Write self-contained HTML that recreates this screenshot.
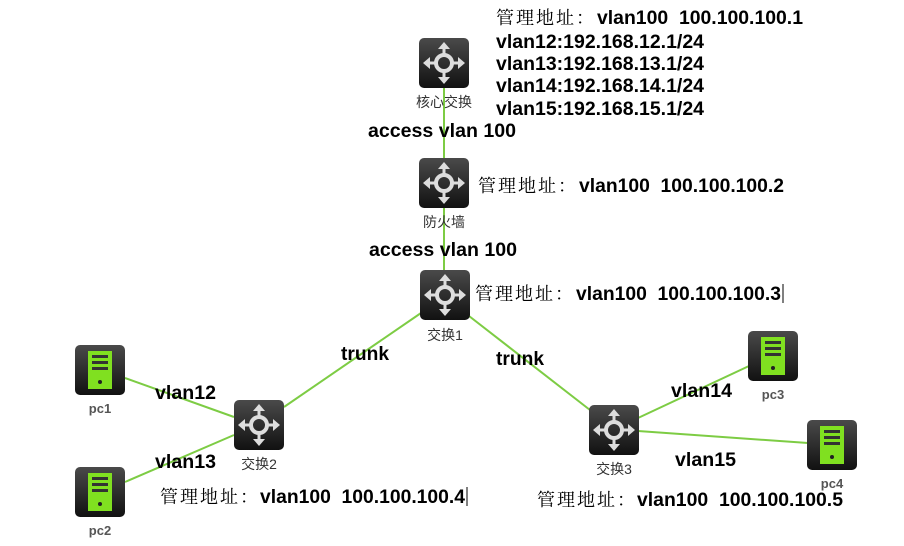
<!DOCTYPE html>
<html><head><meta charset="utf-8"><style>
html,body{margin:0;padding:0;background:#fff;width:904px;height:546px;overflow:hidden}
.b{font-family:"Liberation Sans","Noto Sans CJK SC",sans-serif;font-weight:bold;font-size:19px;fill:#000}
.c{font-family:"Noto Serif CJK SC","Liberation Serif",serif;font-size:18px;fill:#000;letter-spacing:2px}
.s{font-family:"Liberation Sans","Noto Sans CJK SC",sans-serif;font-size:14px;fill:#333}
.p{font-family:"Liberation Sans",sans-serif;font-weight:bold;font-size:13px;fill:#555}
</style></head><body>
<svg width="904" height="546" xmlns="http://www.w3.org/2000/svg">
<defs>
<linearGradient id="g" x1="0" y1="0" x2="0" y2="1"><stop offset="0" stop-color="#4a4a4a"/><stop offset="1" stop-color="#111"/></linearGradient>
<symbol id="sw" viewBox="0 0 50 50">
<rect x="0" y="0" width="50" height="50" rx="5" fill="url(#g)"/>
<g fill="#ddd" stroke="none">
<circle cx="25" cy="25" r="8" fill="none" stroke="#ddd" stroke-width="4"/>
<rect x="23.5" y="9" width="3" height="8"/><rect x="23.5" y="33" width="3" height="8"/>
<rect x="9" y="23.5" width="8" height="3"/><rect x="33" y="23.5" width="8" height="3"/>
<polygon points="25,4 19,11 31,11"/><polygon points="25,46 19,39 31,39"/>
<polygon points="4,25 11,19 11,31"/><polygon points="46,25 39,19 39,31"/>
</g>
</symbol>
<symbol id="pc" viewBox="0 0 50 50">
<rect x="0" y="0" width="50" height="50" rx="5" fill="url(#g)"/>
<rect x="13" y="6" width="24" height="38" fill="#80e020"/>
<rect x="17" y="10" width="16" height="3" fill="#333"/>
<rect x="17" y="16" width="16" height="3" fill="#333"/>
<rect x="17" y="22" width="16" height="3" fill="#333"/>
<circle cx="25" cy="37" r="2" fill="#222"/>
</symbol>
</defs>
<g stroke="#7dcc44" stroke-width="2" fill="none">
<line x1="444" y1="86" x2="444" y2="158"/>
<line x1="444" y1="206" x2="444" y2="270"/>
<line x1="284" y1="407" x2="421" y2="313"/>
<line x1="469" y1="316" x2="590" y2="410"/>
<line x1="125" y1="378" x2="234" y2="417"/>
<line x1="125" y1="482" x2="234" y2="435"/>
<line x1="638" y1="418" x2="749" y2="366"/>
<line x1="638" y1="431" x2="808" y2="443"/>
</g>
<use href="#sw" x="419" y="38" width="50" height="50"/>
<use href="#sw" x="419" y="158" width="50" height="50"/>
<use href="#sw" x="420" y="270" width="50" height="50"/>
<use href="#sw" x="234" y="400" width="50" height="50"/>
<use href="#sw" x="589" y="405" width="50" height="50"/>
<use href="#pc" x="75" y="345" width="50" height="50"/>
<use href="#pc" x="75" y="467" width="50" height="50"/>
<use href="#pc" x="748" y="331" width="50" height="50"/>
<use href="#pc" x="807" y="420" width="50" height="50"/>
<text class="s" x="444" y="107" text-anchor="middle">核心交换</text>
<text class="s" x="444" y="227" text-anchor="middle">防火墙</text>
<text class="s" x="445" y="340" text-anchor="middle">交换1</text>
<text class="s" x="259" y="469" text-anchor="middle">交换2</text>
<text class="s" x="614" y="474" text-anchor="middle">交换3</text>
<text class="p" x="100" y="413" text-anchor="middle">pc1</text>
<text class="p" x="100" y="535" text-anchor="middle">pc2</text>
<text class="p" x="773" y="399" text-anchor="middle">pc3</text>
<text class="p" x="832" y="488" text-anchor="middle">pc4</text>

<text class="c" x="496" y="24">管理地址：</text>
<text class="b" x="597" y="24" textLength="206" lengthAdjust="spacingAndGlyphs" xml:space="preserve">vlan100  100.100.100.1</text>
<text class="b" x="496" y="48" textLength="208" lengthAdjust="spacingAndGlyphs">vlan12:192.168.12.1/24</text>
<text class="b" x="496" y="70" textLength="208" lengthAdjust="spacingAndGlyphs">vlan13:192.168.13.1/24</text>
<text class="b" x="496" y="92" textLength="208" lengthAdjust="spacingAndGlyphs">vlan14:192.168.14.1/24</text>
<text class="b" x="496" y="115" textLength="208" lengthAdjust="spacingAndGlyphs">vlan15:192.168.15.1/24</text>
<text class="b" x="368" y="137" textLength="148" lengthAdjust="spacingAndGlyphs">access vlan 100</text>

<text class="c" x="478" y="192">管理地址：</text>
<text class="b" x="579" y="192" textLength="205" lengthAdjust="spacingAndGlyphs" xml:space="preserve">vlan100  100.100.100.2</text>
<text class="b" x="369" y="256" textLength="148" lengthAdjust="spacingAndGlyphs">access vlan 100</text>

<text class="c" x="475" y="300">管理地址：</text>
<text class="b" x="576" y="300" textLength="205" lengthAdjust="spacingAndGlyphs" xml:space="preserve">vlan100  100.100.100.3</text>
<line x1="783" y1="284" x2="783" y2="303" stroke="#000" stroke-width="1"/>

<text class="b" x="341" y="360" textLength="48" lengthAdjust="spacingAndGlyphs">trunk</text>
<text class="b" x="496" y="365" textLength="48" lengthAdjust="spacingAndGlyphs">trunk</text>
<text class="b" x="155" y="399" textLength="61" lengthAdjust="spacingAndGlyphs">vlan12</text>
<text class="b" x="155" y="468" textLength="61" lengthAdjust="spacingAndGlyphs">vlan13</text>
<text class="b" x="671" y="397" textLength="61" lengthAdjust="spacingAndGlyphs">vlan14</text>
<text class="b" x="675" y="466" textLength="61" lengthAdjust="spacingAndGlyphs">vlan15</text>

<text class="c" x="160" y="503">管理地址：</text>
<text class="b" x="260" y="503" textLength="205" lengthAdjust="spacingAndGlyphs" xml:space="preserve">vlan100  100.100.100.4</text>
<line x1="467" y1="487" x2="467" y2="506" stroke="#000" stroke-width="1"/>

<text class="c" x="537" y="506">管理地址：</text>
<text class="b" x="637" y="506" textLength="206" lengthAdjust="spacingAndGlyphs" xml:space="preserve">vlan100  100.100.100.5</text>
</svg>
</body></html>
